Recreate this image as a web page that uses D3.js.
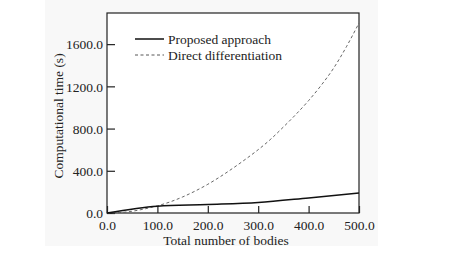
<!DOCTYPE html>
<html>
<head>
<meta charset="utf-8">
<script src="https://cdn.jsdelivr.net/npm/d3@7"></script>
<style>
  body { margin: 0; background: #fff; }
  text { font-family: "Liberation Serif", "Times New Roman", serif; fill: #222; }
</style>
</head>
<body>
<div class="chart"></div>
<script>
// data
const bodies = [0, 25, 50, 75, 100, 125, 150, 175, 200, 225, 250, 275, 300, 325, 350, 375, 400, 425, 450, 475, 500];
const directTime = [0, 4, 17, 39, 68, 105, 152, 208, 272, 345, 425, 510, 600, 700, 815, 935, 1065, 1210, 1375, 1575, 1800];
const proposedBodies = [0, 100, 200, 300, 400, 500];
const proposedTime = [0, 65, 80, 99, 143, 190];
const xTicks = [0, 100, 200, 300, 400, 500];
const yTicks = [0, 400, 800, 1200, 1600];
const seriesNames = ["Proposed approach", "Direct differentiation"];

const W = 463, H = 267;
const margin = { top: 13, right: 104, bottom: 54, left: 107 };
const width = W - margin.left - margin.right;
const height = H - margin.top - margin.bottom;

const svg = d3.select(".chart")
    .append("svg")
    .attr("width", W)
    .attr("height", H);

// faint scan background of the original figure
svg.append("rect")
    .attr("x", 45).attr("y", 0)
    .attr("width", 333).attr("height", 246)
    .attr("fill", "#f8f8f8");

const g = svg.append("g")
    .attr("transform", `translate(${margin.left},${margin.top})`);

const x = d3.scaleLinear().domain([0, 500]).range([0, width]);
const y = d3.scaleLinear().domain([0, 1895]).range([height, 0]);

// plot frame
g.append("rect")
    .attr("width", width).attr("height", height)
    .attr("fill", "#fff")
    .attr("stroke", "#222")
    .attr("stroke-width", 1.2);

// axes with inward ticks
const xAxis = g.append("g")
    .attr("transform", `translate(0,${height})`)
    .call(d3.axisBottom(x).tickValues(xTicks).tickSize(-7).tickPadding(12.5).tickFormat(d3.format(".1f")));
const yAxis = g.append("g")
    .call(d3.axisLeft(y).tickValues(yTicks).tickSize(-8).tickPadding(12).tickFormat(d3.format(".1f")));

[xAxis, yAxis].forEach(a => {
    a.select(".domain").remove();
    a.selectAll("line").attr("stroke", "#222").attr("stroke-width", 1.2);
    a.selectAll("text")
        .attr("font-family", "Liberation Serif, serif")
        .attr("font-size", 13.5)
        .attr("fill", "#222");
});
yAxis.selectAll("text").attr("dx", "8").attr("dy", "0.35em");
xAxis.selectAll("text").attr("dy", "0.35em");

// axis titles
svg.append("text")
    .attr("x", margin.left + width / 2 - 7)
    .attr("y", 244.5)
    .attr("text-anchor", "middle")
    .attr("font-size", 13.5)
    .text("Total number of bodies");

svg.append("text")
    .attr("transform", `translate(63,${margin.top + height / 2 + 3}) rotate(-90)`)
    .attr("text-anchor", "middle")
    .attr("font-size", 13.5)
    .text("Computational time (s)");

// lines
const line = d3.line().x(d => x(d[0])).y(d => y(d[1])).curve(d3.curveMonotoneX);

g.append("path")
    .datum(bodies.map((b, i) => [b, directTime[i]]))
    .attr("d", line)
    .attr("fill", "none")
    .attr("stroke", "#555")
    .attr("stroke-width", 0.9)
    .attr("stroke-dasharray", "3,2.5");

g.append("path")
    .datum(proposedBodies.map((b, i) => [b, proposedTime[i]]))
    .attr("d", line)
    .attr("fill", "none")
    .attr("stroke", "#111")
    .attr("stroke-width", 1.5);

// legend
const legend = svg.append("g");
seriesNames.forEach((name, i) => {
    const ly = 39 + i * 16;
    legend.append("line")
        .attr("x1", 135).attr("x2", 164)
        .attr("y1", ly).attr("y2", ly)
        .attr("stroke", i === 0 ? "#111" : "#444")
        .attr("stroke-width", i === 0 ? 1.5 : 0.9)
        .attr("stroke-dasharray", i === 0 ? null : "3,2.5");
    legend.append("text")
        .attr("x", 168)
        .attr("y", ly + 4.5)
        .attr("font-size", 13.5)
        .text(name);
});
</script>
</body>
</html>
